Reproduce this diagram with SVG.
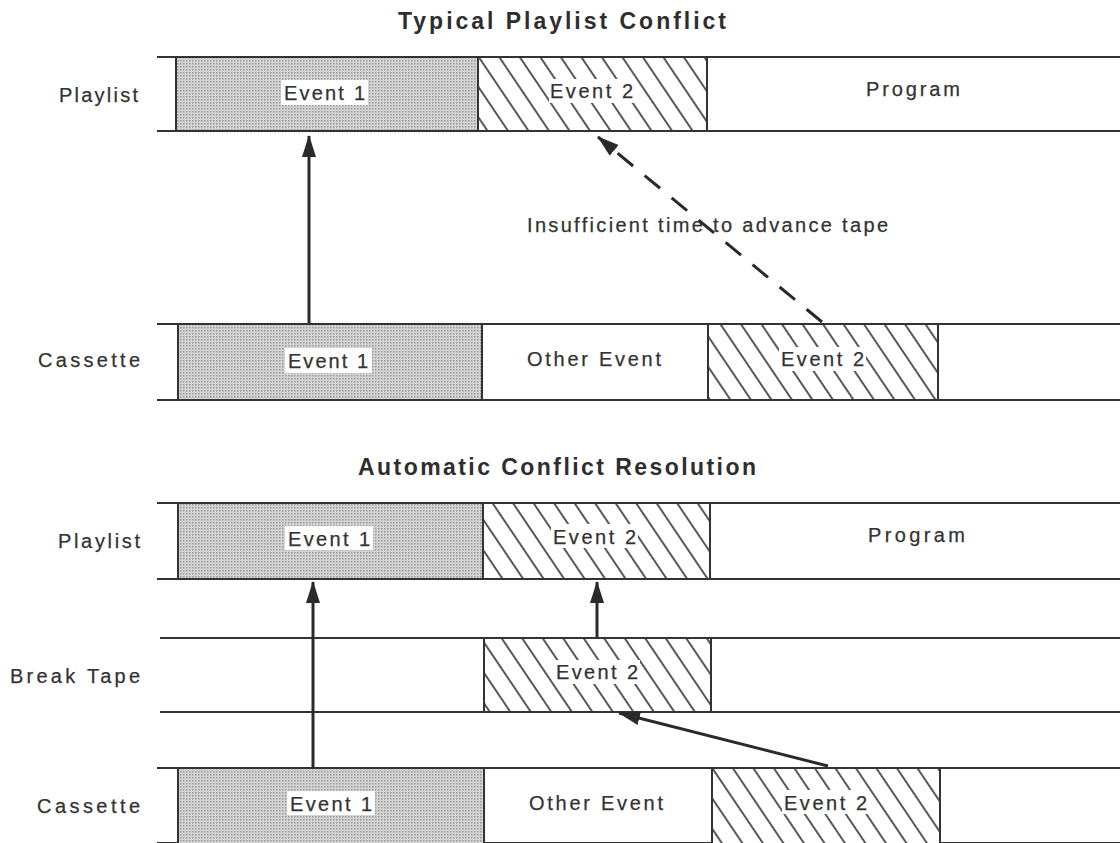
<svg xmlns="http://www.w3.org/2000/svg" width="1120" height="843" viewBox="0 0 1120 843">
  <defs>
    <!-- fine dot screen used for Event 1 -->
    <pattern id="stipple" patternUnits="userSpaceOnUse" width="3" height="3">
      <rect width="3" height="3" fill="#d4d4d4"/>
      <rect x="0" y="0" width="1.5" height="1.5" fill="#999999"/>
    </pattern>
    <!-- diagonal hatching used for Event 2 -->
    <pattern id="hatch" patternUnits="userSpaceOnUse" width="17" height="17" patternTransform="rotate(-34)">
      <rect width="17" height="17" fill="#ffffff"/>
      <line x1="8" y1="0" x2="8" y2="17" stroke="#2e2e2e" stroke-width="1.6"/>
    </pattern>
    <marker id="head" markerUnits="userSpaceOnUse" markerWidth="22" markerHeight="14" refX="21" refY="7" orient="auto">
      <path d="M0,0 L22,7 L0,14 z" fill="#2a2a2a"/>
    </marker>
  </defs>
  <style>
    .rule { stroke: #333; stroke-width: 2; fill: none; }
    .edge { stroke: #333; stroke-width: 2; }
    .lbl { font-family: "Liberation Sans", Arial, sans-serif; font-size: 20px; fill: #333; stroke: #333; stroke-width: 0.25; }
    .ttl { font-family: "Liberation Sans", Arial, sans-serif; font-size: 23px; font-weight: bold; fill: #2e2e2e; }
    .tag { fill: #ffffff; stroke: none; }
    .conn { stroke: #2a2a2a; stroke-width: 3; fill: none; }
  </style>
  <rect width="1120" height="843" fill="#ffffff"/>

  <!-- ===== Section 1: Typical Playlist Conflict ===== -->
  <text class="ttl" x="398" y="29" textLength="328" lengthAdjust="spacing">Typical Playlist Conflict</text>

  <g id="row-playlist-1">
    <text class="lbl" x="138" y="102" text-anchor="end" textLength="79" lengthAdjust="spacing">Playlist</text>
    <line class="rule" x1="157" y1="57" x2="1120" y2="57"/>
    <line class="rule" x1="157" y1="131" x2="1120" y2="131"/>
  </g>
  <g id="p1-event1">
    <rect x="176" y="57" width="302" height="74" fill="url(#stipple)" class="edge"/>
    <rect class="tag" x="281" y="80" width="87" height="25"/>
    <text class="lbl" x="284" y="100" textLength="81" lengthAdjust="spacing">Event 1</text>
  </g>
  <g id="p1-event2">
    <rect x="478" y="57" width="229" height="74" fill="url(#hatch)" class="edge"/>
    <rect class="tag" x="549" y="79" width="86" height="24"/>
    <text class="lbl" x="550" y="98" textLength="83" lengthAdjust="spacing">Event 2</text>
  </g>
  <g id="p1-program">
    <text class="lbl" x="866" y="96" textLength="94" lengthAdjust="spacing">Program</text>
  </g>

  <g id="row-cassette-1">
    <text class="lbl" x="140" y="367" text-anchor="end" textLength="102" lengthAdjust="spacing">Cassette</text>
    <line class="rule" x1="157" y1="324" x2="1120" y2="324"/>
    <line class="rule" x1="157" y1="400" x2="1120" y2="400"/>
  </g>
  <g id="c1-event1">
    <rect x="178" y="324" width="304" height="76" fill="url(#stipple)" class="edge"/>
    <rect class="tag" x="285" y="348" width="87" height="25"/>
    <text class="lbl" x="288" y="368" textLength="80" lengthAdjust="spacing">Event 1</text>
  </g>
  <g id="c1-other">
    <text class="lbl" x="527" y="366" textLength="134" lengthAdjust="spacing">Other Event</text>
  </g>
  <g id="c1-event2">
    <rect x="708" y="324" width="230" height="76" fill="url(#hatch)" class="edge"/>
    <rect class="tag" x="779" y="347" width="87" height="24"/>
    <text class="lbl" x="781" y="366" textLength="83" lengthAdjust="spacing">Event 2</text>
  </g>

  <text id="note" class="lbl" x="527" y="232" textLength="361" lengthAdjust="spacing">Insufficient time to advance tape</text>

  <!-- ===== Section 2: Automatic Conflict Resolution ===== -->
  <text class="ttl" x="358" y="475" textLength="398" lengthAdjust="spacing">Automatic Conflict Resolution</text>

  <g id="row-playlist-2">
    <text class="lbl" x="140" y="548" text-anchor="end" textLength="82" lengthAdjust="spacing">Playlist</text>
    <line class="rule" x1="157" y1="503" x2="1120" y2="503"/>
    <line class="rule" x1="157" y1="579" x2="1120" y2="579"/>
  </g>
  <g id="p2-event1">
    <rect x="178" y="503" width="305" height="76" fill="url(#stipple)" class="edge"/>
    <rect class="tag" x="285" y="526" width="88" height="24"/>
    <text class="lbl" x="288" y="546" textLength="82" lengthAdjust="spacing">Event 1</text>
  </g>
  <g id="p2-event2">
    <rect x="483" y="503" width="227" height="76" fill="url(#hatch)" class="edge"/>
    <rect class="tag" x="551" y="524" width="87" height="24"/>
    <text class="lbl" x="553" y="544" textLength="83" lengthAdjust="spacing">Event 2</text>
  </g>
  <g id="p2-program">
    <text class="lbl" x="868" y="542" textLength="97" lengthAdjust="spacing">Program</text>
  </g>

  <g id="row-break">
    <text class="lbl" x="140" y="683" text-anchor="end" textLength="130" lengthAdjust="spacing">Break Tape</text>
    <line class="rule" x1="160" y1="638" x2="1120" y2="638"/>
    <line class="rule" x1="160" y1="712" x2="1120" y2="712"/>
  </g>
  <g id="b-event2">
    <rect x="484" y="638" width="227" height="74" fill="url(#hatch)" class="edge"/>
    <rect class="tag" x="554" y="660" width="86" height="24"/>
    <text class="lbl" x="556" y="679" textLength="82" lengthAdjust="spacing">Event 2</text>
  </g>

  <g id="row-cassette-2">
    <text class="lbl" x="140" y="813" text-anchor="end" textLength="103" lengthAdjust="spacing">Cassette</text>
    <line class="rule" x1="157" y1="768" x2="1120" y2="768"/>
    <line class="rule" x1="157" y1="843" x2="1120" y2="843"/>
  </g>
  <g id="c2-event1">
    <rect x="178" y="768" width="306" height="76" fill="url(#stipple)" class="edge"/>
    <rect class="tag" x="287" y="791" width="88" height="24"/>
    <text class="lbl" x="290" y="811" textLength="82" lengthAdjust="spacing">Event 1</text>
  </g>
  <g id="c2-other">
    <text class="lbl" x="529" y="810" textLength="134" lengthAdjust="spacing">Other Event</text>
  </g>
  <g id="c2-event2">
    <rect x="712" y="768" width="228" height="76" fill="url(#hatch)" class="edge"/>
    <rect class="tag" x="782" y="790" width="87" height="24"/>
    <text class="lbl" x="784" y="810" textLength="83" lengthAdjust="spacing">Event 2</text>
  </g>

  <!-- ===== Connectors ===== -->
  <g id="connectors">
    <line class="conn" x1="309" y1="323" x2="309" y2="136" marker-end="url(#head)"/>
    <line class="conn" x1="822" y1="322" x2="598" y2="137" stroke-dasharray="20 15" marker-end="url(#head)"/>
    <line class="conn" x1="313" y1="768" x2="313" y2="582" marker-end="url(#head)"/>
    <line class="conn" x1="597" y1="637" x2="597" y2="582" marker-end="url(#head)"/>
    <line class="conn" x1="828" y1="766" x2="619" y2="713" marker-end="url(#head)"/>
  </g>
</svg>
